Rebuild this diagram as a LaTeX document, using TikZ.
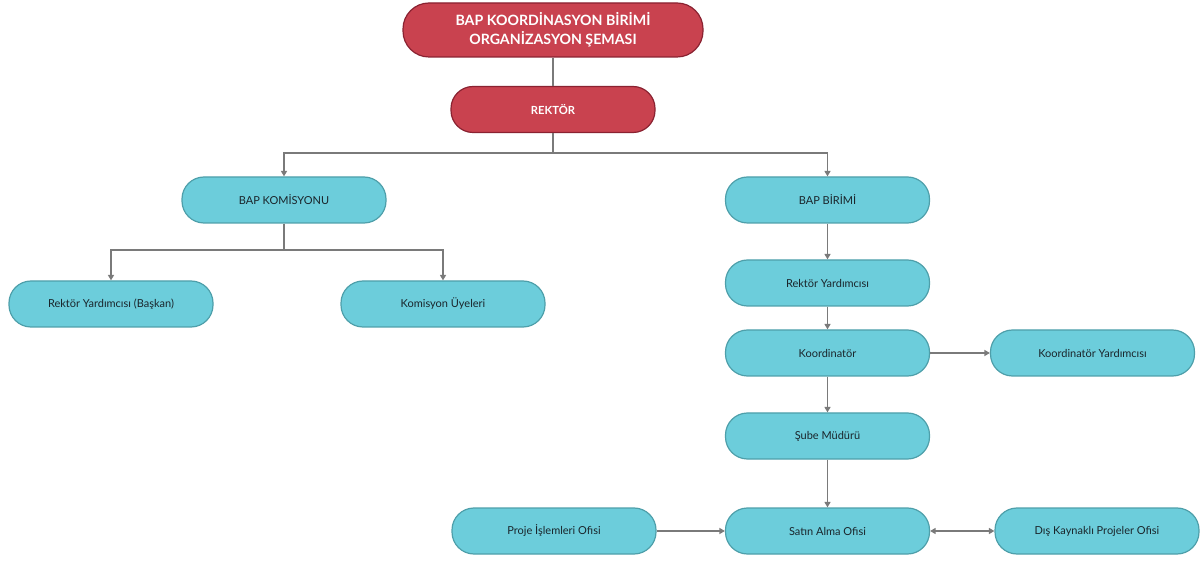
\documentclass[tikz,border=0pt]{standalone}
\usepackage{fontspec}
\setmainfont{Lato}
\usetikzlibrary{arrows.meta}
\definecolor{redfill}{HTML}{C9424F}
\definecolor{redline}{HTML}{8A2231}
\definecolor{cyanfill}{HTML}{6CCDDB}
\definecolor{cyanline}{HTML}{4E9FAA}
\definecolor{conn}{HTML}{7A7A7A}
\definecolor{txt}{HTML}{1A252B}
\tikzset{
  pill/.style={draw=cyanline, line width=1.2pt, fill=cyanfill, rounded corners=22pt,
    minimum width=204pt, minimum height=46pt, text=txt, font=\fontsize{11}{13}\selectfont, inner sep=0pt},
  redpill/.style={pill, draw=redline, fill=redfill, text=white},
  link/.style={draw=conn, line width=1.6pt},
  arr/.style={link, -{Triangle[length=5.5pt,width=6pt]}},
}
\begin{document}
\begin{tikzpicture}[x=1pt,y=-1pt]
\useasboundingbox (0,0) rectangle (1203,561);
\node[redpill, minimum width=300pt, minimum height=54pt, rounded corners=26pt, align=center,
  font=\fontsize{14.2}{19}\selectfont\bfseries] (title) at (553,30) {BAP KOORDİNASYON BİRİMİ\\ORGANİZASYON ŞEMASI};
\node[redpill, font=\fontsize{11.2}{13}\selectfont\bfseries] (rektor) at (553,109.5) {REKTÖR};
\node[pill] (kom) at (284,200) {BAP KOMİSYONU};
\node[pill] (bir) at (827.5,200) {BAP BİRİMİ};
\node[pill] (bas) at (111,304) {Rektör Yardımcısı (Başkan)};
\node[pill] (uye) at (443,304) {Komisyon Üyeleri};
\node[pill] (ry) at (827.5,283) {Rektör Yardımcısı};
\node[pill] (koo) at (827.5,353) {Koordinatör};
\node[pill] (kyr) at (1092.5,353) {Koordinatör Yardımcısı};
\node[pill] (sube) at (827.5,436) {Şube Müdürü};
\node[pill] (sat) at (827.5,531) {Satın Alma Ofisi};
\node[pill] (pro) at (554,531) {Proje İşlemleri Ofisi};
\node[pill] (dis) at (1097,531) {Dış Kaynaklı Projeler Ofisi};
\coordinate (r1) at (553,153);
\coordinate (k1) at (284,250);
\draw[link] (title) -- (rektor);
\draw[link] (rektor) -- (r1);
\draw[arr] (r1) -| (kom);
\draw[arr] (r1) -| (bir);
\draw[link] (kom) -- (k1);
\draw[arr] (k1) -| (bas);
\draw[arr] (k1) -| (uye);
\draw[arr] (bir) -- (ry);
\draw[arr] (ry) -- (koo);
\draw[arr] (koo) -- (kyr);
\draw[arr] (koo) -- (sube);
\draw[arr] (sube) -- (sat);
\draw[arr] (pro) -- (sat);
\draw[link, {Triangle[length=5.5pt,width=6pt]}-{Triangle[length=5.5pt,width=6pt]}] (sat) -- (dis);
\end{tikzpicture}
\end{document}
